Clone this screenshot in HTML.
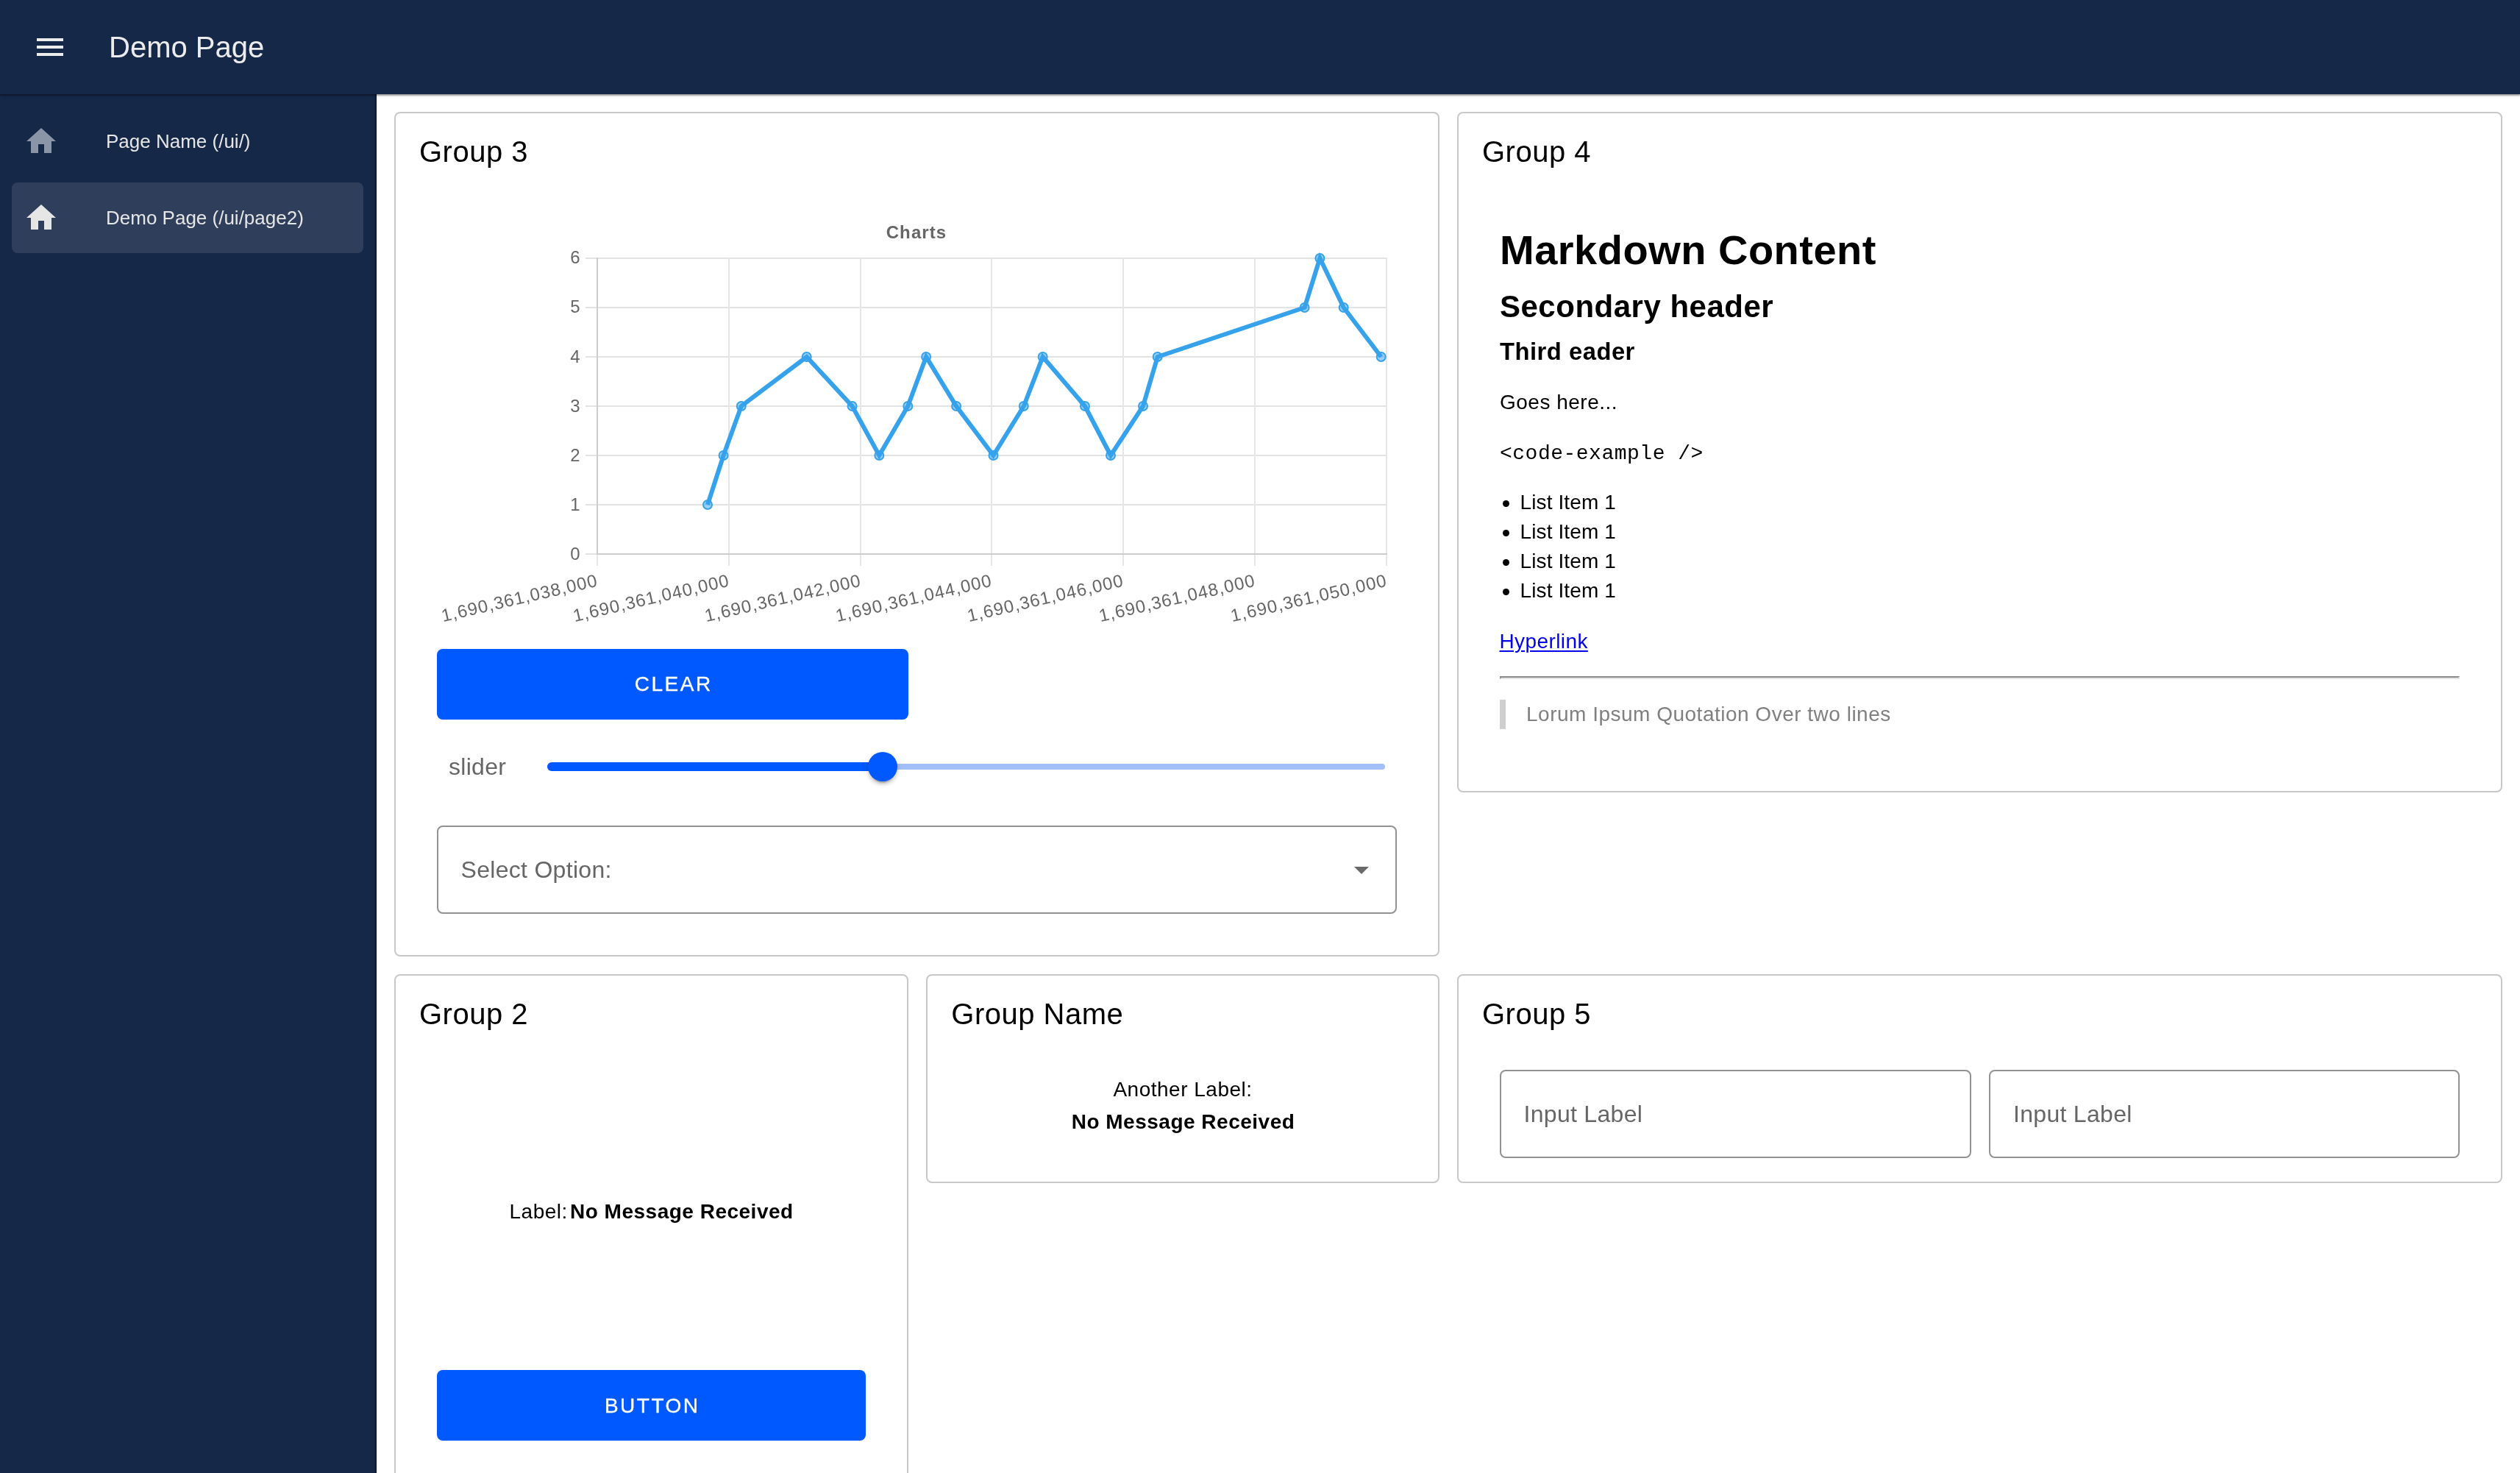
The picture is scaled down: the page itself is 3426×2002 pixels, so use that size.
<!DOCTYPE html>
<html lang="en">
<head>
<meta charset="utf-8">
<title>Demo Page</title>
<style>
*{box-sizing:border-box;margin:0;padding:0}
html,body{width:3426px;height:2002px;overflow:hidden;background:#fff}
body{font-family:"Liberation Sans",sans-serif;position:relative;color:#000}
.t{position:absolute;white-space:nowrap;display:block}
.abs{position:absolute}
.bar{position:absolute;left:0;top:0;width:3426px;height:128px;background:#162848;box-shadow:0 2px 1.5px rgba(0,0,0,.32),0 3px 4px rgba(0,0,0,.09);z-index:5}
.drawer{position:absolute;left:0;top:128px;width:512px;height:1874px;background:#162848;z-index:4;border-right:2px solid #0c1a36}
.navitem{position:absolute;left:16px;width:478px;height:96px;border-radius:8px}
.navitem.active{background:rgba(255,255,255,.105)}
.card{position:absolute;border:2px solid #c8c8c8;border-radius:8px;background:#fff}
.btn{position:absolute;background:#0059ff;border-radius:8px;height:96px}
.field{position:absolute;border:2px solid #929292;border-radius:8px;background:#fff}
#app{position:absolute;left:0;top:0;width:3426px;height:2002px;overflow:hidden;will-change:transform}
@media (max-width:2000px){html{zoom:.5}}
.surface{position:absolute;left:512px;top:128px;width:2914px;height:1874px;background:#fff}
header,nav,main,section,ul,li,a{position:static;display:block;list-style:none;color:inherit;text-decoration:none}
</style>
</head>
<body>
<div id="app">

<main>
<div class="surface"></div>
<section>
<div class="card" style="left:536px;top:152px;width:1421px;height:1148px"></div>
<h2 class="t" style="top:181.64px;font-size:40px;line-height:48px;color:#000;left:570px;letter-spacing:0.5px;font-weight:400;">Group 3</h2>
<svg class="abs" style="left:536px;top:152px" width="1421" height="760" viewBox="536 152 1421 760" font-family="Liberation Sans, sans-serif">
<rect x="796.0" y="752.00" width="1090.0" height="2" fill="#e3e3e3"/>
<rect x="796.0" y="685.00" width="1090.0" height="2" fill="#e3e3e3"/>
<rect x="796.0" y="618.00" width="1090.0" height="2" fill="#e3e3e3"/>
<rect x="796.0" y="551.00" width="1090.0" height="2" fill="#e3e3e3"/>
<rect x="796.0" y="484.00" width="1090.0" height="2" fill="#e3e3e3"/>
<rect x="796.0" y="417.00" width="1090.0" height="2" fill="#e3e3e3"/>
<rect x="796.0" y="350.00" width="1090.0" height="2" fill="#e3e3e3"/>
<rect x="811.00" y="350.00" width="2" height="419.00" fill="#e6e6e8"/>
<rect x="990.00" y="350.00" width="2" height="419.00" fill="#e6e6e8"/>
<rect x="1169.00" y="350.00" width="2" height="419.00" fill="#e6e6e8"/>
<rect x="1347.00" y="350.00" width="2" height="419.00" fill="#e6e6e8"/>
<rect x="1526.00" y="350.00" width="2" height="419.00" fill="#e6e6e8"/>
<rect x="1705.00" y="350.00" width="2" height="419.00" fill="#e6e6e8"/>
<rect x="1884.00" y="350.00" width="2" height="419.00" fill="#e6e6e8"/>
<rect x="811.00" y="350.00" width="2" height="404.00" fill="#cdcdcd"/>
<rect x="811.00" y="752.00" width="1075.00" height="2" fill="#cdcdcd"/>
<text x="788.5" y="761.1" font-size="24" fill="#666" text-anchor="end">0</text>
<text x="788.5" y="694.0" font-size="24" fill="#666" text-anchor="end">1</text>
<text x="788.5" y="626.8" font-size="24" fill="#666" text-anchor="end">2</text>
<text x="788.5" y="559.7" font-size="24" fill="#666" text-anchor="end">3</text>
<text x="788.5" y="492.5" font-size="24" fill="#666" text-anchor="end">4</text>
<text x="788.5" y="425.3" font-size="24" fill="#666" text-anchor="end">5</text>
<text x="788.5" y="358.2" font-size="24" fill="#666" text-anchor="end">6</text>
<text x="1246" y="323.7" font-size="24" font-weight="700" fill="#666" text-anchor="middle" letter-spacing="1.1">Charts</text>
<text transform="translate(812.0,788.0) rotate(-13.0)" x="0" y="8.5" font-size="24" fill="#666" text-anchor="end" letter-spacing="1.0">1,690,361,038,000</text>
<text transform="translate(991.0,788.0) rotate(-13.0)" x="0" y="8.5" font-size="24" fill="#666" text-anchor="end" letter-spacing="1.0">1,690,361,040,000</text>
<text transform="translate(1170.0,788.0) rotate(-13.0)" x="0" y="8.5" font-size="24" fill="#666" text-anchor="end" letter-spacing="1.0">1,690,361,042,000</text>
<text transform="translate(1348.0,788.0) rotate(-13.0)" x="0" y="8.5" font-size="24" fill="#666" text-anchor="end" letter-spacing="1.0">1,690,361,044,000</text>
<text transform="translate(1527.0,788.0) rotate(-13.0)" x="0" y="8.5" font-size="24" fill="#666" text-anchor="end" letter-spacing="1.0">1,690,361,046,000</text>
<text transform="translate(1706.0,788.0) rotate(-13.0)" x="0" y="8.5" font-size="24" fill="#666" text-anchor="end" letter-spacing="1.0">1,690,361,048,000</text>
<text transform="translate(1885.0,788.0) rotate(-13.0)" x="0" y="8.5" font-size="24" fill="#666" text-anchor="end" letter-spacing="1.0">1,690,361,050,000</text>
<path d="M962.0,686.0 L983.6,619.0 L1007.8,552.0 L1096.7,485.0 L1158.6,552.0 L1195.3,619.0 L1234.3,552.0 L1259.1,485.0 L1300.1,552.0 L1350.5,619.0 L1391.8,552.0 L1417.7,485.0 L1475.0,552.0 L1510.0,619.0 L1554.0,552.0 L1573.7,485.0 L1773.6,418.0 L1794.4,351.0 L1826.7,418.0 L1877.7,485.0" fill="none" stroke="#36a2eb" stroke-width="6" stroke-linejoin="miter" stroke-linecap="butt"/>
<circle cx="962.0" cy="686.0" r="6" fill="rgba(54,162,235,0.5)" stroke="#36a2eb" stroke-width="2"/>
<circle cx="983.6" cy="619.0" r="6" fill="rgba(54,162,235,0.5)" stroke="#36a2eb" stroke-width="2"/>
<circle cx="1007.8" cy="552.0" r="6" fill="rgba(54,162,235,0.5)" stroke="#36a2eb" stroke-width="2"/>
<circle cx="1096.7" cy="485.0" r="6" fill="rgba(54,162,235,0.5)" stroke="#36a2eb" stroke-width="2"/>
<circle cx="1158.6" cy="552.0" r="6" fill="rgba(54,162,235,0.5)" stroke="#36a2eb" stroke-width="2"/>
<circle cx="1195.3" cy="619.0" r="6" fill="rgba(54,162,235,0.5)" stroke="#36a2eb" stroke-width="2"/>
<circle cx="1234.3" cy="552.0" r="6" fill="rgba(54,162,235,0.5)" stroke="#36a2eb" stroke-width="2"/>
<circle cx="1259.1" cy="485.0" r="6" fill="rgba(54,162,235,0.5)" stroke="#36a2eb" stroke-width="2"/>
<circle cx="1300.1" cy="552.0" r="6" fill="rgba(54,162,235,0.5)" stroke="#36a2eb" stroke-width="2"/>
<circle cx="1350.5" cy="619.0" r="6" fill="rgba(54,162,235,0.5)" stroke="#36a2eb" stroke-width="2"/>
<circle cx="1391.8" cy="552.0" r="6" fill="rgba(54,162,235,0.5)" stroke="#36a2eb" stroke-width="2"/>
<circle cx="1417.7" cy="485.0" r="6" fill="rgba(54,162,235,0.5)" stroke="#36a2eb" stroke-width="2"/>
<circle cx="1475.0" cy="552.0" r="6" fill="rgba(54,162,235,0.5)" stroke="#36a2eb" stroke-width="2"/>
<circle cx="1510.0" cy="619.0" r="6" fill="rgba(54,162,235,0.5)" stroke="#36a2eb" stroke-width="2"/>
<circle cx="1554.0" cy="552.0" r="6" fill="rgba(54,162,235,0.5)" stroke="#36a2eb" stroke-width="2"/>
<circle cx="1573.7" cy="485.0" r="6" fill="rgba(54,162,235,0.5)" stroke="#36a2eb" stroke-width="2"/>
<circle cx="1773.6" cy="418.0" r="6" fill="rgba(54,162,235,0.5)" stroke="#36a2eb" stroke-width="2"/>
<circle cx="1794.4" cy="351.0" r="6" fill="rgba(54,162,235,0.5)" stroke="#36a2eb" stroke-width="2"/>
<circle cx="1826.7" cy="418.0" r="6" fill="rgba(54,162,235,0.5)" stroke="#36a2eb" stroke-width="2"/>
<circle cx="1877.7" cy="485.0" r="6" fill="rgba(54,162,235,0.5)" stroke="#36a2eb" stroke-width="2"/>
</svg>
<div class="btn" style="left:594px;top:882px;width:641px"></div>
<span class="t" style="top:913.30px;font-size:28px;line-height:34px;color:#fff;left:915.75px;transform:translateX(-50%);letter-spacing:2.5px;-webkit-text-stroke:0.35px #fff;">CLEAR</span>
<span class="t" style="top:1023.21px;font-size:32px;line-height:38px;color:#666;left:610px;letter-spacing:0.3px;">slider</span>
<div class="abs" style="left:744px;top:1038px;width:1139px;height:8px;border-radius:4px;background:#a3bffb"></div>
<div class="abs" style="left:744px;top:1036px;width:462px;height:12px;border-radius:6px;background:#0059ff"></div>
<div class="abs" style="left:1180px;top:1022px;width:40px;height:40px;border-radius:50%;background:#0059ff;box-shadow:0 6px 2px -4px rgba(0,0,0,.2),0 4px 4px 0 rgba(0,0,0,.14),0 2px 10px 0 rgba(0,0,0,.12)"></div>
<div class="field" style="left:594px;top:1122px;width:1305px;height:120px"></div>
<span class="t" style="top:1162.51px;font-size:32px;line-height:38px;color:#666;left:626.5px;letter-spacing:0.3px;">Select Option:</span>
<svg class="abs" style="left:1841px;top:1178px" width="20" height="10" viewBox="0 0 20 10"><path d="M0,0H20L10,10Z" fill="#6a6a6a"/></svg>
</section>
<section>
<div class="card" style="left:1981px;top:152px;width:1421px;height:925px"></div>
<h2 class="t" style="top:181.64px;font-size:40px;line-height:48px;color:#000;left:2015px;letter-spacing:0.5px;font-weight:400;">Group 4</h2>
<h1 class="t" style="top:306.10px;font-size:56px;line-height:67px;color:#000;left:2039px;font-weight:700;letter-spacing:0.5px;">Markdown Content</h1>
<h2 class="t" style="top:392.45px;font-size:42px;line-height:50px;color:#000;left:2039px;font-weight:700;letter-spacing:0.5px;">Secondary header</h2>
<h3 class="t" style="top:458.15px;font-size:32.76px;line-height:39px;color:#000;left:2039px;font-weight:700;letter-spacing:0.5px;">Third eader</h3>
<p class="t" style="top:529.90px;font-size:28px;line-height:34px;color:#000;left:2039px;letter-spacing:0.5px;">Goes here...</p>
<pre class="t" style="top:599.70px;font-size:28px;line-height:34px;color:#000;left:2039px;letter-spacing:0.5px;font-family:'Liberation Mono',monospace;">&lt;code-example /&gt;</pre>
<ul>
<li>
<i class="abs" style="left:2042.5px;top:679.5px;width:9.6px;height:9.6px;border-radius:50%;background:#000"></i>
<span class="t" style="top:666.10px;font-size:28px;line-height:34px;color:#000;left:2066.5px;letter-spacing:0.12px;">List Item 1</span>
</li>
<li>
<i class="abs" style="left:2042.5px;top:719.5px;width:9.6px;height:9.6px;border-radius:50%;background:#000"></i>
<span class="t" style="top:706.10px;font-size:28px;line-height:34px;color:#000;left:2066.5px;letter-spacing:0.12px;">List Item 1</span>
</li>
<li>
<i class="abs" style="left:2042.5px;top:759.5px;width:9.6px;height:9.6px;border-radius:50%;background:#000"></i>
<span class="t" style="top:746.10px;font-size:28px;line-height:34px;color:#000;left:2066.5px;letter-spacing:0.12px;">List Item 1</span>
</li>
<li>
<i class="abs" style="left:2042.5px;top:799.5px;width:9.6px;height:9.6px;border-radius:50%;background:#000"></i>
<span class="t" style="top:786.10px;font-size:28px;line-height:34px;color:#000;left:2066.5px;letter-spacing:0.12px;">List Item 1</span>
</li>
</ul>
<u class="t" style="top:854.50px;font-size:28px;line-height:34px;color:#0000ee;left:2038.5px;letter-spacing:0.4px;text-decoration:underline;text-decoration-thickness:2px;text-underline-offset:3px;">Hyperlink</u>
<div class="abs" style="left:2039px;top:919px;width:1305px;height:4px;border-top:2px solid #8a8a8a;border-bottom:2px solid #e4e4e4;border-left:2px solid #8a8a8a;border-right:2px solid #e4e4e4"></div>
<div class="abs" style="left:2039px;top:951px;width:8px;height:40px;background:#cfcfcf"></div>
<blockquote class="t" style="top:954.20px;font-size:28px;line-height:34px;color:#808080;left:2075px;letter-spacing:0.5px;">Lorum Ipsum Quotation Over two lines</blockquote>
</section>
<section>
<div class="card" style="left:536px;top:1324px;width:699px;height:776px"></div>
<h2 class="t" style="top:1354.14px;font-size:40px;line-height:48px;color:#000;left:570px;letter-spacing:0.5px;font-weight:400;">Group 2</h2>
<span class="t" style="top:1629.50px;font-size:28px;line-height:34px;color:#000;left:692.5px;letter-spacing:0.5px;">Label:</span>
<span class="t" style="top:1629.50px;font-size:28px;line-height:34px;color:#000;left:775px;font-weight:700;letter-spacing:0.5px;">No Message Received</span>
<div class="btn" style="left:594px;top:1862px;width:583px"></div>
<span class="t" style="top:1893.60px;font-size:28px;line-height:34px;color:#fff;left:886.75px;transform:translateX(-50%);letter-spacing:2.5px;-webkit-text-stroke:0.35px #fff;">BUTTON</span>
</section>
<section>
<div class="card" style="left:1259px;top:1324px;width:698px;height:284px"></div>
<h2 class="t" style="top:1354.14px;font-size:40px;line-height:48px;color:#000;left:1293.3px;letter-spacing:0.5px;font-weight:400;">Group Name</h2>
<span class="t" style="top:1464.30px;font-size:28px;line-height:34px;color:#000;left:1608px;transform:translateX(-50%);letter-spacing:0.5px;">Another Label:</span>
<span class="t" style="top:1508.30px;font-size:28px;line-height:34px;color:#000;left:1608.5px;transform:translateX(-50%);font-weight:700;letter-spacing:0.5px;">No Message Received</span>
</section>
<section>
<div class="card" style="left:1981px;top:1324px;width:1421px;height:284px"></div>
<h2 class="t" style="top:1354.14px;font-size:40px;line-height:48px;color:#000;left:2015px;letter-spacing:0.5px;font-weight:400;">Group 5</h2>
<div class="field" style="left:2039px;top:1454px;width:641px;height:120px"></div>
<div class="field" style="left:2704px;top:1454px;width:640px;height:120px"></div>
<span class="t" style="top:1494.61px;font-size:32px;line-height:38px;color:#666;left:2071.5px;letter-spacing:0.3px;">Input Label</span>
<span class="t" style="top:1494.61px;font-size:32px;line-height:38px;color:#666;left:2737px;letter-spacing:0.3px;">Input Label</span>
</section>
</main>
<nav>
<div class="drawer"></div>
<a>
<div class="navitem" style="top:144px;z-index:6"></div>
<svg class="abs" style="left:32px;top:168px;z-index:7" width="48" height="48" viewBox="0 0 24 24"><path d="M10,20V14H14V20H19V12H22L12,3L2,12H5V20H10Z" fill="#8b95a8"/></svg>
<span class="t" style="top:177.19px;font-size:26px;line-height:31px;color:#e6e6e6;left:144px;z-index:7;">Page Name (/ui/)</span>
</a>
<a>
<div class="navitem active" style="top:248px;z-index:6"></div>
<svg class="abs" style="left:32px;top:272px;z-index:7" width="48" height="48" viewBox="0 0 24 24"><path d="M10,20V14H14V20H19V12H22L12,3L2,12H5V20H10Z" fill="#e6e6e6"/></svg>
<span class="t" style="top:281.19px;font-size:26px;line-height:31px;color:#e6e6e6;left:144px;z-index:7;">Demo Page (/ui/page2)</span>
</a>
</nav>
<header>
<div class="bar"></div>
<svg class="abs" style="left:44px;top:40px;z-index:7" width="48" height="48" viewBox="0 0 24 24"><path d="M3,6H21V8H3V6M3,11H21V13H3V11M3,16H21V18H3V16Z" fill="#ececec"/></svg>
<div class="t" style="top:40.14px;font-size:40px;line-height:48px;color:#ececec;left:148px;z-index:7;font-weight:400;">Demo Page</div>
</header>
</div>
</body>
</html>
